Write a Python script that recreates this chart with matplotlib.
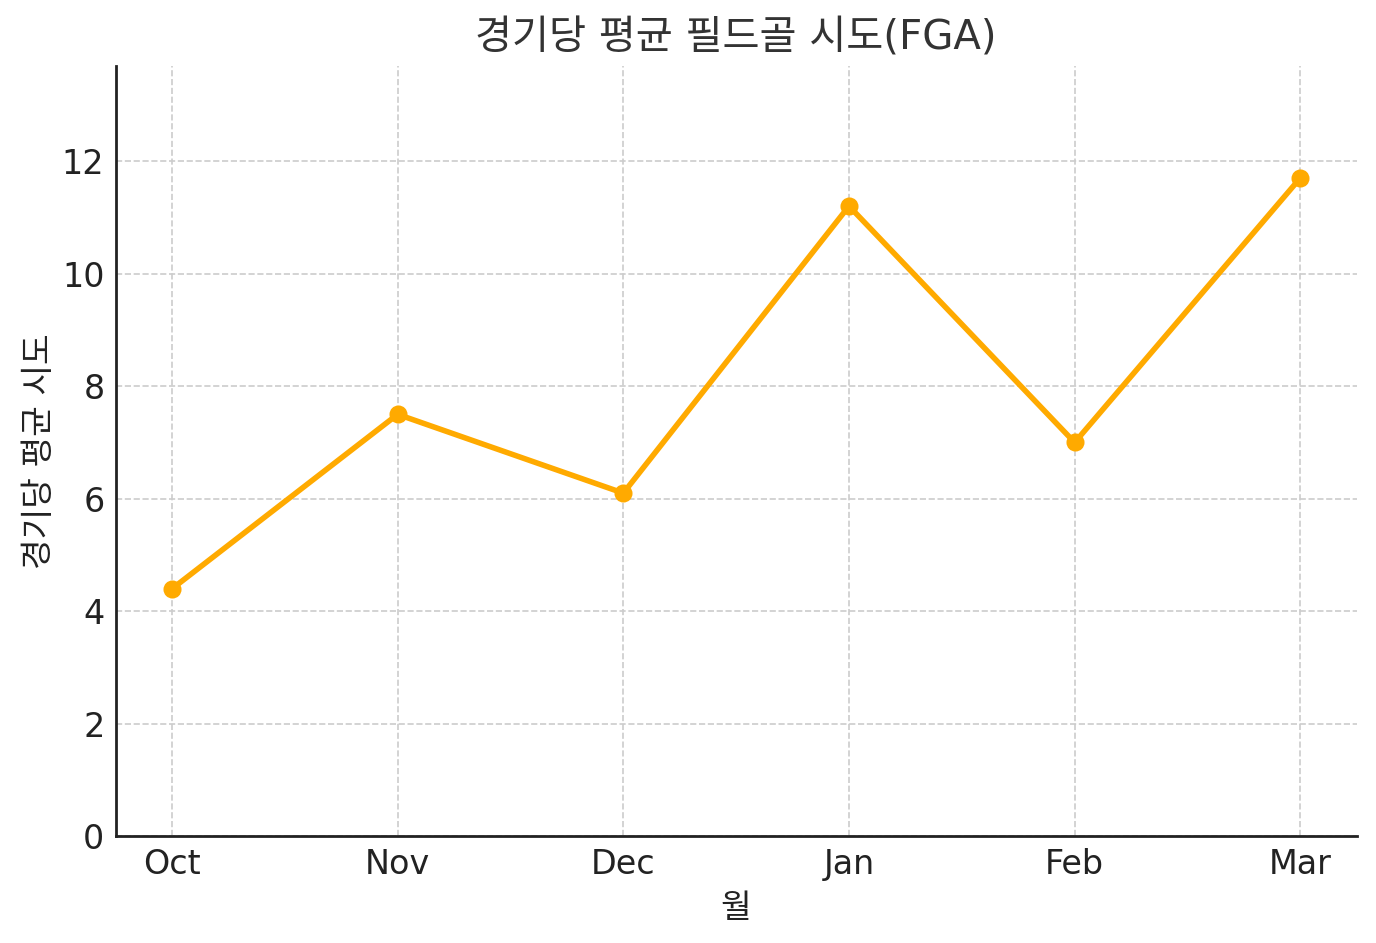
import numpy as np
import matplotlib
matplotlib.use("Agg")
import matplotlib.pyplot as plt

plt.rcParams['font.family'] = ['DejaVu Sans', 'Noto Sans CJK KR']

months = ["Oct", "Nov", "Dec", "Jan", "Feb", "Mar"]
fga = [4.4, 7.5, 6.1, 11.2, 7.0, 11.7]

fig, ax = plt.subplots(figsize=(6.88, 4.715), dpi=200)

x = np.arange(len(months))
ax.plot(x, fga, color="#FFAA00", linewidth=2, marker="o", markersize=5.5)

ax.set_xticks(x)
ax.set_xticklabels(months)
ax.set_ylim(0, max(fga) * 1.17)
ax.grid(True, linestyle="--", linewidth=0.6, color="#cccccc")
ax.set_axisbelow(True)

for s in ["top", "right"]:
    ax.spines[s].set_visible(False)
for s in ["left", "bottom"]:
    ax.spines[s].set_color("#222222")
    ax.spines[s].set_linewidth(1.0)

ax.tick_params(colors="#222222", labelsize=12, length=0, pad=4)
ax.set_title("경기당 평균 필드골 시도(FGA)", fontsize=14.5, color="#333333")
ax.set_xlabel("월", fontsize=12, color="#222222", labelpad=4)
ax.set_ylabel("경기당 평균 시도", fontsize=12, color="#222222", labelpad=2)

fig.subplots_adjust(left=0.084, right=0.986, top=0.93, bottom=0.113)
fig.savefig("out.png", dpi=200)
